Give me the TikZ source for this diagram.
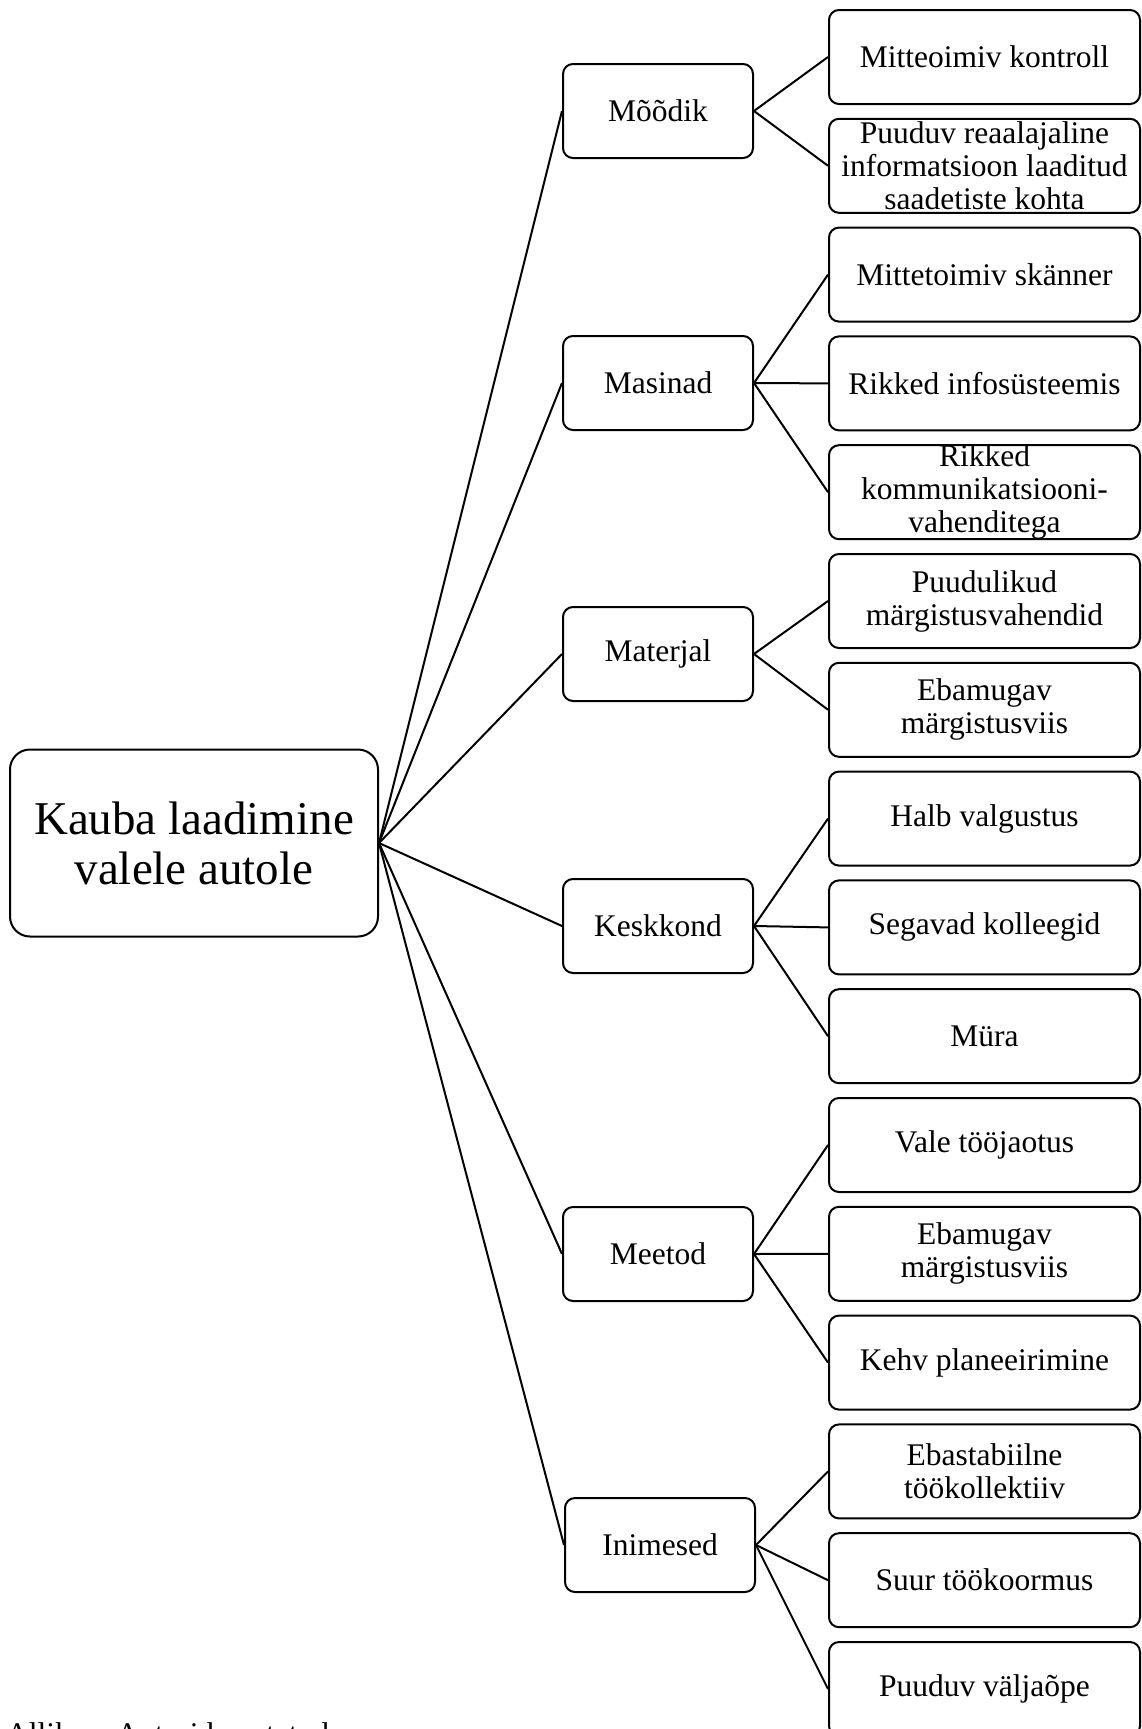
\documentclass[tikz,border=0pt]{standalone}
\usepackage{fontspec}
\setmainfont{Liberation Serif}
\begin{document}
\begin{tikzpicture}[x=1pt,y=-1pt,
  box/.style={draw, line width=2pt, rounded corners=10pt, inner sep=0pt},
  rootbox/.style={box, rounded corners=20pt, minimum width=368pt, minimum height=187pt, align=center, font=\fontsize{47}{50}\selectfont},
  mbox/.style={box, minimum width=190pt, minimum height=94pt, font=\fontsize{31.5}{33}\selectfont},
  rbox/.style={box, minimum width=311pt, minimum height=94pt},
  txt/.style={align=center, inner sep=0pt, font=\fontsize{31.5}{33}\selectfont},
  conn/.style={line width=2pt}]
\useasboundingbox (0,0) rectangle (1142,1729);
\clip (0,0) rectangle (1142,1729);

\node[rootbox] (root) at (194,843) {Kauba laadimine\\valele autole};

\node[mbox] (m1) at (658,111) {Mõõdik};
\node[mbox] (m2) at (658,383) {Masinad};
\node[mbox] (m3) at (658,654) {Materjal};
\node[mbox] (m4) at (658,926) {Keskkond};
\node[mbox] (m5) at (658,1254) {Meetod};
\node[mbox] (m6) at (660,1545) {Inimesed};

\node[rbox] (r1) at (984.5,57) {};
\node[rbox] (r2) at (984.5,165.8) {};
\node[rbox] (r3) at (984.5,274.6) {};
\node[rbox] (r4) at (984.5,383.4) {};
\node[rbox] (r5) at (984.5,492.2) {};
\node[rbox] (r6) at (984.5,601) {};
\node[rbox] (r7) at (984.5,709.8) {};
\node[rbox] (r8) at (984.5,818.6) {};
\node[rbox] (r9) at (984.5,927.4) {};
\node[rbox] (r10) at (984.5,1036.2) {};
\node[rbox] (r11) at (984.5,1145) {};
\node[rbox] (r12) at (984.5,1253.8) {};
\node[rbox] (r13) at (984.5,1362.6) {};
\node[rbox] (r14) at (984.5,1471.4) {};
\node[rbox] (r15) at (984.5,1580.2) {};
\node[rbox] (r16) at (984.5,1689) {};

\node[txt] (t1) at (r1) {Mitteoimiv kontroll};
\node[txt] (t2) at (r2) {Puuduv reaalajaline\\informatsioon laaditud\\saadetiste kohta};
\node[txt] (t3) at (r3) {Mittetoimiv skänner};
\node[txt] (t4) at (r4) {Rikked infosüsteemis};
\node[txt] (t5) at (r5) {Rikked\\kommunikatsiooni-\\vahenditega};
\node[txt] (t6) at (r6) {Puudulikud\\märgistusvahendid};
\node[txt] (t7) at (r7) {Ebamugav\\märgistusviis};
\node[txt] (t8) at (r8) {Halb valgustus};
\node[txt] (t9) at (r9) {Segavad kolleegid};
\node[txt] (t10) at (r10) {Müra};
\node[txt] (t11) at (r11) {Vale tööjaotus};
\node[txt] (t12) at (r12) {Ebamugav\\märgistusviis};
\node[txt] (t13) at (r13) {Kehv planeeirimine};
\node[txt] (t14) at (r14) {Ebastabiilne\\töökollektiiv};
\node[txt] (t15) at (r15) {Suur töökoormus};
\node[txt] (t16) at (r16) {Puuduv väljaõpe};

\foreach \m in {m1,m2,m3,m4,m5,m6} \draw[conn] (root.east) -- (\m.west);
\foreach \r in {r1,r2} \draw[conn] (m1.east) -- (\r.west);
\foreach \r in {r3,r4,r5} \draw[conn] (m2.east) -- (\r.west);
\foreach \r in {r6,r7} \draw[conn] (m3.east) -- (\r.west);
\foreach \r in {r8,r9,r10} \draw[conn] (m4.east) -- (\r.west);
\foreach \r in {r11,r12,r13} \draw[conn] (m5.east) -- (\r.west);
\foreach \r in {r14,r15,r16} \draw[conn] (m6.east) -- (\r.west);

\node[txt, anchor=base west] (src) at (6,1744) {Allikas: Autori koostatud};
\end{tikzpicture}
\end{document}
